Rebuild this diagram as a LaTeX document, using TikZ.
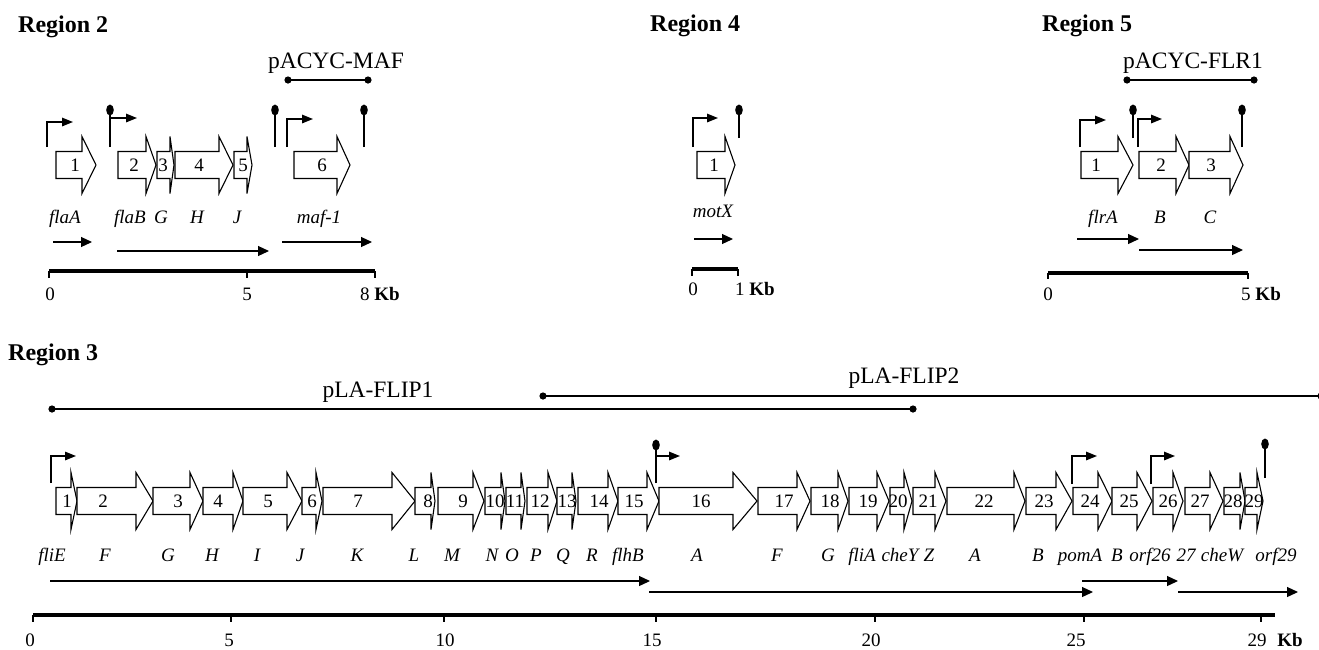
\documentclass[tikz,border=0pt]{standalone}
\usepackage{fontspec}
\setmainfont{Liberation Serif}
\usetikzlibrary{arrows.meta}
\tikzset{
  genebox/.style={draw, line width=1.1pt, fill=white, line join=miter},
  gnum/.style={font=\fontsize{19}{21}\selectfont, inner sep=0pt},
  gname/.style={font=\fontsize{19}{21}\selectfont\itshape, anchor=base, inner sep=0pt},
  regtitle/.style={font=\fontsize{24}{26}\selectfont\bfseries, anchor=base west, inner sep=0pt},
  plasname/.style={font=\fontsize{23.5}{25}\selectfont, anchor=base, inner sep=0pt},
  scalenum/.style={font=\fontsize{19}{21}\selectfont, anchor=base, inner sep=0pt},
  scalekb/.style={font=\fontsize{19}{21}\selectfont, anchor=base west, inner sep=0pt},
  transcript/.style={line width=1.2pt, -{Triangle[length=11pt,width=10pt]}},
  promoter/.style={line width=1.5pt, -{Triangle[length=11pt,width=8.5pt]}},
  termstem/.style={line width=1.5pt},
  plasline/.style={line width=1.2pt},
  scalebar/.style={line width=4pt},
  scaletick/.style={line width=1.5pt},
}
% gene arrow: #1 name, #2 left, #3 head base, #4 tip, #5 centre y, #6 number, #7 number x
\newcommand{\genearrow}[7]{%
  \draw[genebox] (#2,#5-13.5) -- (#3,#5-13.5) -- (#3,#5-28.5) -- (#4,#5)
     -- (#3,#5+28.5) -- (#3,#5+13.5) -- (#2,#5+13.5) -- cycle;
  \node[gnum] (#1) at (#7,#5) {#6};
}
\newcommand{\terminator}[4]{% name, x, bottom y, top y
  \draw[termstem] (#2,#3) -- (#2,#4);
  \fill (#2,#4) ellipse [x radius=3.8pt, y radius=5.5pt];
  \coordinate (#1) at (#2,#4);
}
\newcommand{\plasmidcap}[1]{\fill (#1) circle (3.6pt);}
\begin{document}
\begin{tikzpicture}[x=1pt,y=-1pt]
\useasboundingbox (0,0) rectangle (1319,649);

%================ Region 2
\node[regtitle] (r2) at (18,32) {Region 2};
\node[plasname] (maf) at (336,68) {pACYC-MAF};
\coordinate (mafL) at (288,80); \coordinate (mafR) at (368,80);
\draw[plasline] (mafL) -- (mafR); \plasmidcap{mafL} \plasmidcap{mafR}

\draw[promoter] (47,147) -- (47,122) -- (73,122);
\terminator{t2a}{110}{147}{110}
\draw[promoter] (110,118) -- (137,118);
\terminator{t2b}{275}{147}{110}
\draw[promoter] (287,147) -- (287,119) -- (313,119);
\terminator{t2c}{364}{147}{110}

\genearrow{g2a}{56}{82}{96}{165}{1}{75}
\genearrow{g2b}{118}{146}{156}{165}{2}{134}
\genearrow{g2c}{157}{170}{174}{165}{3}{163}
\genearrow{g2d}{175}{219}{233}{165}{4}{199}
\genearrow{g2e}{234}{247}{252}{165}{5}{243}
\genearrow{g2f}{294}{337}{350}{165}{6}{322}

\node[gname] (n2a) at (65,223) {flaA};
\node[gname] (n2b) at (130,223) {flaB};
\node[gname] (n2c) at (161,223) {G};
\node[gname] (n2d) at (197,223) {H};
\node[gname] (n2e) at (237,223) {J};
\node[gname] (n2f) at (319,223) {maf-1};

\draw[transcript] (53,242) -- (92,242);
\draw[transcript] (117,251) -- (269,251);
\draw[transcript] (282,242) -- (372,242);

\draw[scalebar] (49,271) -- (375,271);
\foreach \t in {49,247,375} \draw[scaletick] (\t,271) -- (\t,278);
\node[scalenum] (s2a) at (50,300) {0};
\node[scalenum] (s2b) at (247,300) {5};
\node[scalekb] (s2c) at (360,300) {8 \textbf{Kb}};

%================ Region 4
\node[regtitle] (r4) at (650,31) {Region 4};
\draw[promoter] (693,147) -- (693,118) -- (718,118);
\terminator{t4a}{739}{138}{110}
\genearrow{g4a}{697}{725}{735}{165}{1}{714}
\node[gname] (n4a) at (713,217) {motX};
\draw[transcript] (694,239) -- (733,239);
\draw[scalebar] (692,269) -- (738,269);
\foreach \t in {692,738} \draw[scaletick] (\t,269) -- (\t,276);
\node[scalenum] (s4a) at (693,295) {0};
\node[scalekb] (s4b) at (735,295) {1 \textbf{Kb}};

%================ Region 5
\node[regtitle] (r5) at (1042,31) {Region 5};
\node[plasname] (flr) at (1193,68) {pACYC-FLR1};
\coordinate (flrL) at (1127,80); \coordinate (flrR) at (1254,80);
\draw[plasline] (flrL) -- (flrR); \plasmidcap{flrL} \plasmidcap{flrR}
\draw[promoter] (1080,147) -- (1080,120) -- (1106,120);
\terminator{t5a}{1133}{138}{110}
\draw[promoter] (1138,147) -- (1138,119) -- (1162,119);
\terminator{t5b}{1242}{147}{110}
\genearrow{g5a}{1081}{1118}{1133}{165}{1}{1096}
\genearrow{g5b}{1139}{1176}{1189}{165}{2}{1161}
\genearrow{g5c}{1189}{1230}{1243}{165}{3}{1211}
\node[gname] (n5a) at (1103,223) {flrA};
\node[gname] (n5b) at (1160,223) {B};
\node[gname] (n5c) at (1210,223) {C};
\draw[transcript] (1077,239) -- (1139,239);
\draw[transcript] (1139,250) -- (1243,250);
\draw[scalebar] (1048,273) -- (1248,273);
\foreach \t in {1048,1248} \draw[scaletick] (\t,273) -- (\t,279);
\node[scalenum] (s5a) at (1048,300) {0};
\node[scalekb] (s5b) at (1241,300) {5 \textbf{Kb}};

%================ Region 3
\node[regtitle] (r3) at (8,360) {Region 3};
\node[plasname] (flip1) at (378,397) {pLA-FLIP1};
\node[plasname] (flip2) at (904,383) {pLA-FLIP2};
\coordinate (f1L) at (52,409); \coordinate (f1R) at (913,409);
\draw[plasline] (f1L) -- (f1R); \plasmidcap{f1L} \plasmidcap{f1R}
\coordinate (f2L) at (543,396); \coordinate (f2R) at (1321,396);
\draw[plasline] (f2L) -- (f2R); \plasmidcap{f2L} \plasmidcap{f2R}

\draw[promoter] (51,483) -- (51,456) -- (76,456);
\terminator{t3a}{656}{483}{445}
\draw[promoter] (656,456) -- (680,456);
\draw[promoter] (1072,484) -- (1072,456) -- (1097,456);
\draw[promoter] (1151,484) -- (1151,456) -- (1175,456);
\terminator{t3b}{1265}{478}{444}

\genearrow{g3a}{56}{71}{77}{501}{1}{67}
\genearrow{g3b}{77}{136}{153}{501}{2}{103}
\genearrow{g3c}{153}{190}{203}{501}{3}{178}
\genearrow{g3d}{203}{233}{243}{501}{4}{218}
\genearrow{g3e}{243}{287}{302}{501}{5}{268}
\genearrow{g3f}{302}{316}{322}{501}{6}{312}
\genearrow{g3g}{323}{392}{415}{501}{7}{358}
\genearrow{g3h}{415}{431}{435}{501}{8}{428}
\genearrow{g3i}{438}{473}{484}{501}{9}{463}
\genearrow{g3j}{485}{501}{505}{501}{10}{495}
\genearrow{g3k}{506}{521}{525}{501}{11}{515}
\genearrow{g3l}{527}{548}{557}{501}{12}{540}
\genearrow{g3m}{557}{572}{576}{501}{13}{567}
\genearrow{g3n}{578}{608}{618}{501}{14}{599}
\genearrow{g3o}{618}{647}{659}{501}{15}{634}
\genearrow{g3p}{659}{733}{757}{501}{16}{701}
\genearrow{g3q}{758}{797}{810}{501}{17}{784}
\genearrow{g3r}{811}{838}{848}{501}{18}{830}
\genearrow{g3s}{849}{877}{889}{501}{19}{868}
\genearrow{g3t}{890}{904}{912}{501}{20}{898}
\genearrow{g3u}{913}{935}{946}{501}{21}{928}
\genearrow{g3v}{947}{1014}{1025}{501}{22}{984}
\genearrow{g3w}{1026}{1056}{1072}{501}{23}{1044}
\genearrow{g3x}{1073}{1098}{1112}{501}{24}{1090}
\genearrow{g3y}{1112}{1137}{1152}{501}{25}{1129}
\genearrow{g3z}{1153}{1173}{1183}{501}{26}{1168}
\genearrow{g3aa}{1185}{1210}{1223}{501}{27}{1200}
\genearrow{g3ab}{1224}{1240}{1245}{501}{28}{1233}
\genearrow{g3ac}{1245}{1257}{1263}{501}{29}{1254}

\foreach \lab/\xx [count=\i] in {fliE/52, F/105, G/168, H/212, I/257, J/300, K/357, L/414,
   M/452, N/492, O/512, P/536, Q/563, R/592, flhB/628, A/697, F/777, G/828, fliA/862,
   cheY/900, Z/929, A/975, B/1038, pomA/1080, B/1117, orf26/1150, 27/1186, cheW/1222, orf29/1276}
   \node[gname] (n3-\i) at (\xx,561) {\lab};

\draw[transcript] (50,581) -- (650,581);
\draw[transcript] (649,592) -- (1093,592);
\draw[transcript] (1082,581) -- (1178,581);
\draw[transcript] (1178,592) -- (1298,592);

\draw[scalebar] (33,615) -- (1275,615);
\foreach \t in {33,231,444,656,875,1084,1261} \draw[scaletick] (\t,615) -- (\t,622);
\foreach \v/\xx in {0/30, 5/229, 10/445, 15/652, 20/871, 25/1076, 29/1257}
  \node[scalenum] (s3-\v) at (\xx,646) {\v};
\node[scalenum, font=\fontsize{19}{21}\selectfont\bfseries] (s3kb) at (1290,646) {Kb};
\end{tikzpicture}
\end{document}
